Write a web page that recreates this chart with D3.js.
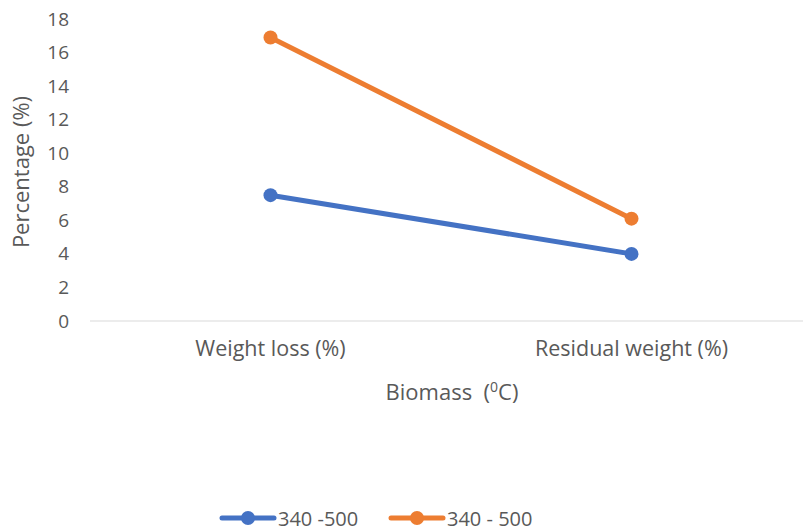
<!DOCTYPE html>
<html>
<head>
<meta charset="utf-8">
<script src="https://cdn.jsdelivr.net/npm/d3@7"></script>
<style>
  body { margin: 0; background: #fff; }
  svg { display: block; font-family: "Open Sans", sans-serif; }
</style>
</head>
<body>
<svg id="chart" width="803" height="531"></svg>
<script>
// Data
const categories = ["Weight loss (%)", "Residual weight (%)"];
const seriesNames = ["340 -500", "340 - 500"];
const seriesA = [7.5, 4.0];
const seriesB = [16.9, 6.1];
const yTicks = [0, 2, 4, 6, 8, 10, 12, 14, 16, 18];
const colors = ["#4472C4", "#ED7D31"];

const series = [
  { name: seriesNames[0], values: seriesA, color: colors[0] },
  { name: seriesNames[1], values: seriesB, color: colors[1] }
];

const svg = d3.select("#chart");
const plot = { left: 90, right: 812, top: 19, bottom: 321 };
const font = "'Open Sans', sans-serif";

const x = d3.scaleBand().domain(categories).range([plot.left, plot.right]);
const y = d3.scaleLinear().domain([0, 18]).range([plot.bottom, plot.top]);

const textColor = "#595959";

// Baseline
svg.append("line")
  .attr("x1", plot.left).attr("x2", plot.right)
  .attr("y1", y(0)).attr("y2", y(0))
  .attr("stroke", "#d9d9d9").attr("stroke-width", 1);

// Y axis tick labels
const yAxis = d3.axisLeft(y).tickValues(yTicks).tickSize(0).tickPadding(0);
const gy = svg.append("g").attr("transform", `translate(${plot.left - 21},0)`).call(yAxis);
gy.select(".domain").remove();
gy.selectAll("text")
  .attr("fill", textColor).style("font-size", "19px")
  .style("font-family", font);

// X axis category labels
const xAxis = d3.axisBottom(x).tickSize(0).tickPadding(0);
const gx = svg.append("g").attr("transform", `translate(0,${plot.bottom + 20})`).call(xAxis);
gx.select(".domain").remove();
gx.selectAll("text")
  .attr("fill", textColor).style("font-size", "21.5px")
  .style("font-family", font);

// Axis titles
svg.append("text")
  .attr("transform", `translate(29,${(plot.top + plot.bottom) / 2 + 2}) rotate(-90)`)
  .attr("text-anchor", "middle")
  .attr("fill", textColor).style("font-size", "22px")
  .text("Percentage (%)");

const xt = svg.append("text")
  .attr("x", 452).attr("y", 400)
  .attr("text-anchor", "middle")
  .attr("fill", textColor).style("font-size", "22px")
  .style("white-space", "pre");
xt.append("tspan").text("Biomass  (");
xt.append("tspan").attr("dy", -8).style("font-size", "14px").text("0");
xt.append("tspan").attr("dy", 8).text("C)");

// Lines and markers
const line = d3.line()
  .x((d, i) => x(categories[i]) + x.bandwidth() / 2)
  .y(d => y(d));

series.forEach(s => {
  svg.append("path")
    .datum(s.values)
    .attr("d", line)
    .attr("fill", "none")
    .attr("stroke", s.color)
    .attr("stroke-width", 5)
    .attr("stroke-linecap", "round");
  svg.selectAll(null)
    .data(s.values)
    .enter().append("circle")
    .attr("cx", (d, i) => x(categories[i]) + x.bandwidth() / 2)
    .attr("cy", d => y(d))
    .attr("r", 7)
    .attr("fill", s.color);
});

// Legend
const legendY = 518;
const legendX = [220, 389];
series.forEach((s, i) => {
  const g = svg.append("g").attr("transform", `translate(${legendX[i]},${legendY})`);
  g.append("line").attr("x1", 2).attr("x2", 54).attr("y1", 0).attr("y2", 0)
    .attr("stroke", s.color).attr("stroke-width", 5).attr("stroke-linecap", "round");
  g.append("circle").attr("cx", 28).attr("cy", 0).attr("r", 7).attr("fill", s.color);
  g.append("text").attr("x", 58).attr("y", 0)
    .attr("dominant-baseline", "central")
    .attr("fill", textColor).style("font-size", "20px").text(s.name);
});
</script>
</body>
</html>
